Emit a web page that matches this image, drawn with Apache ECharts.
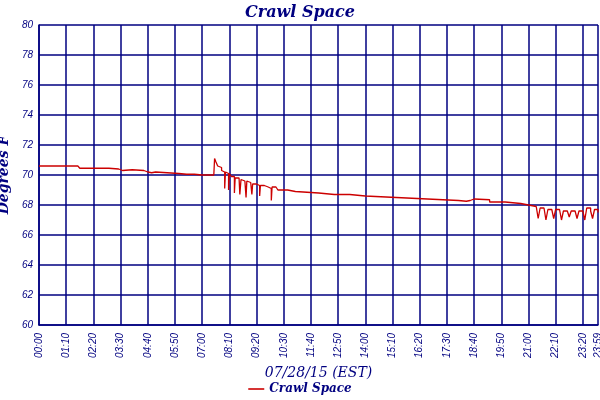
<!DOCTYPE html>
<html><head><meta charset="utf-8">
<script src="https://cdn.jsdelivr.net/npm/echarts@6/dist/echarts.min.js"></script>
<style>body{margin:0}#c{width:600px;height:400px}</style></head>
<body><div id="c"></div>
<script>
const minutes = [0,20,60,100,105,140,180,205,210,215,240,270,280,290,300,330,360,380,400,420,440,450,452,455,460,465,470,475,478,480,485,488,490,495,500,503,505,510,515,517,520,525,530,533,535,540,545,548,550,555,560,565,568,570,575,580,585,590,595,598,600,610,615,620,640,660,690,720,760,800,840,880,920,960,1000,1040,1080,1100,1110,1120,1160,1200,1240,1260,1280,1285,1290,1300,1305,1310,1320,1325,1330,1340,1345,1350,1360,1365,1370,1380,1385,1390,1400,1405,1410,1420,1425,1430,1439];
const temps   = [70.6,70.6,70.6,70.55,70.45,70.45,70.4,70.4,70.3,70.35,70.3,70.2,70.15,70.2,70.15,70.1,70.05,70.05,70.0,70.0,70.0,70.0,71.1,70.9,70.6,70.5,70.3,70.2,69.1,70.2,70.1,69.0,70.1,69.9,69.9,68.8,69.8,69.8,69.8,68.7,69.7,69.6,69.6,68.5,69.6,69.5,69.4,68.7,69.4,69.4,69.3,69.3,68.6,69.3,69.3,69.2,69.2,69.2,69.1,68.3,69.2,69.1,69.0,69.0,68.9,68.85,68.8,68.7,68.7,68.6,68.55,68.5,68.45,68.4,68.35,68.3,68.25,68.3,68.4,68.35,68.2,68.1,68.0,67.9,67.8,67.1,67.8,67.7,67.0,67.7,67.6,67.1,67.7,67.6,67.0,67.6,67.7,67.2,67.6,67.7,67.1,67.6,67.7,67.0,67.8,67.6,67.1,67.7,67.5];
const yTicks = [60,62,64,66,68,70,72,74,76,78,80];
const navy = '#000080';
const fmt = m => { if (m >= 1439) return '23:59'; const h = Math.floor(m/60), mm = m%60; return String(h).padStart(2,'0')+':'+String(mm).padStart(2,'0'); };
const serif = '"DejaVu Serif", "Liberation Serif", serif';
const chart = echarts.init(document.getElementById('c'));
chart.setOption({
  animation:false,
  title:{text:'Crawl Space',left:'center',top:0,textStyle:{color:navy,fontFamily:serif,fontStyle:'italic',fontWeight:'bold',fontSize:16}},
  legend:{bottom:0,left:'center',icon:'path://M0,5L30,5L30,8L0,8Z',itemWidth:16,itemHeight:6,textStyle:{color:navy,fontFamily:serif,fontStyle:'italic',fontWeight:'bold',fontSize:12}},
  grid:{left:39,right:2,top:25,bottom:75,containLabel:false,outerBoundsMode:'none'},
  xAxis:{type:'value',min:0,max:1439,interval:70,
    name:'07/28/15 (EST)',nameLocation:'middle',nameGap:30,nameTextStyle:{color:navy,fontFamily:serif,fontStyle:'italic',fontSize:14},
    axisLine:{lineStyle:{color:navy,width:1.5}},axisTick:{show:false},
    splitLine:{show:true,lineStyle:{color:navy,width:1.5}},
    axisLabel:{rotate:90,color:navy,fontSize:10,fontStyle:'italic',showMaxLabel:true,formatter:fmt}},
  yAxis:{type:'value',min:60,max:80,interval:2,
    name:'Degrees F',nameLocation:'middle',nameGap:24,nameTextStyle:{color:navy,fontFamily:serif,fontStyle:'italic',fontWeight:'bold',fontSize:14},
    axisLine:{show:true,lineStyle:{color:navy,width:1.5}},axisTick:{show:false},
    splitLine:{lineStyle:{color:navy,width:1.5}},
    axisLabel:{color:navy,fontSize:10,fontStyle:'italic',margin:6}},
  series:[{name:'Crawl Space',type:'line',step:'end',showSymbol:false,color:'#cc0000',lineStyle:{width:1.3},
    data:minutes.map((m,i)=>[m,temps[i]])}]
});
</script></body></html>
